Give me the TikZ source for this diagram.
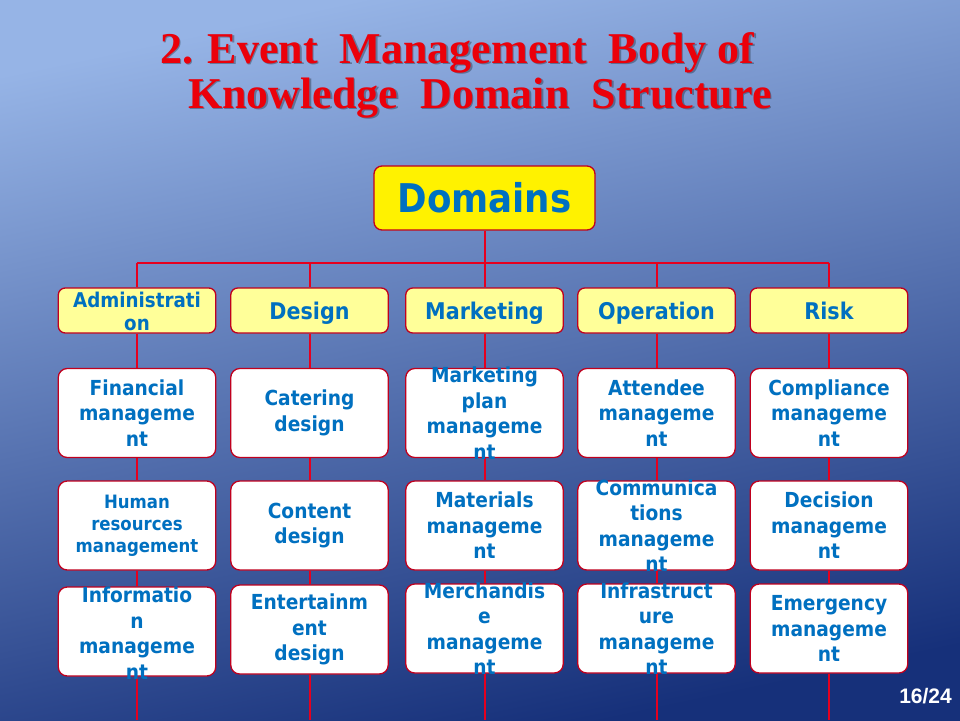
\documentclass[tikz,border=0pt]{standalone}
\usepackage{fontspec}
\newfontfamily\bodyfont[FakeStretch=0.9]{DejaVu Sans}
\newfontfamily\titlefont{Liberation Serif}
\newfontfamily\numfont{Liberation Sans}
\definecolor{linered}{RGB}{230,0,30}
\definecolor{borderred}{RGB}{192,0,30}
\definecolor{txtblue}{RGB}{0,112,192}
\definecolor{paleyel}{RGB}{255,255,153}
\definecolor{titlered}{RGB}{235,0,10}
\definecolor{bgtop}{RGB}{150,180,230}
\definecolor{bgmid}{RGB}{76,132,212}
\definecolor{bgbot}{RGB}{22,48,122}
\pgfdeclarelayer{bglayer}
\pgfdeclarelayer{linelayer}
\pgfsetlayers{bglayer,linelayer,main}
\begin{document}
\begin{tikzpicture}[x=1pt,y=-1pt,
  hbox/.style={draw=borderred, line width=1.3pt, fill=paleyel, rounded corners=7pt, minimum width=157.5pt, minimum height=45pt, inner sep=0pt},
  wbox/.style={draw=borderred, line width=1.3pt, fill=white, rounded corners=9pt, minimum width=157.5pt, minimum height=89pt, inner sep=0pt},
  dbox/.style={draw=borderred, line width=1.3pt, fill=yellow, rounded corners=8pt, minimum width=221pt, minimum height=64pt, inner sep=0pt},
  txt/.style={text=txtblue, font={\bodyfont\bfseries\fontsize{20.7}{25.5}\selectfont}, align=center, inner sep=0pt},
  htxt/.style={text=txtblue, font={\bodyfont\bfseries\fontsize{23}{23}\selectfont}, align=center, inner sep=0pt, anchor=base},
  ttl/.style={font={\titlefont\bfseries\fontsize{44}{44}\selectfont}, anchor=base west, inner sep=0pt},
  conn/.style={draw=linered, line width=2pt}
]
\begin{pgfonlayer}{bglayer}
\shade[top color=bgtop, middle color=bgmid, bottom color=bgbot, shading angle=12] (0,0) rectangle (960,720);
\end{pgfonlayer}
\useasboundingbox (0,0) rectangle (960,720);

% title (with soft shadow)
\node[ttl, text=black, text opacity=0.3] (t1s) at (161.5,64.5) {2. Event\ \ Management\ \ Body of};
\node[ttl, text=black, text opacity=0.3] (t2s) at (189.5,109.5) {Knowledge\ \ Domain\ \ Structure};
\node[ttl, text=titlered] (t1) at (160,63) {2. Event\ \ Management\ \ Body of};
\node[ttl, text=titlered] (t2) at (188,108) {Knowledge\ \ Domain\ \ Structure};

% root
\node[dbox] (dom) at (484.5,198) {};
\node[txt, font={\bodyfont\bfseries\fontsize{39.6}{40}\selectfont}] (domt) at (dom) {Domains};

% headers
\node[hbox] (h1) at (137,310.5) {};
\node[hbox] (h2) at (309.5,310.5) {};
\node[hbox] (h3) at (484.5,310.5) {};
\node[hbox] (h4) at (656.5,310.5) {};
\node[hbox] (h5) at (829,310.5) {};
\node[txt, font={\bodyfont\bfseries\fontsize{20.3}{23}\selectfont}] (h1t) at (137,311) {Administrati\\on};
\node[htxt] (h2t) at (309.5,319) {Design};
\node[htxt] (h3t) at (484.5,319) {Marketing};
\node[htxt] (h4t) at (656.5,319) {Operation};
\node[htxt] (h5t) at (829,319) {Risk};

% row 2
\node[wbox] (a2) at (137,413) {};
\node[wbox] (b2) at (309.5,413) {};
\node[wbox] (c2) at (484.5,413) {};
\node[wbox] (d2) at (656.5,413) {};
\node[wbox] (e2) at (829,413) {};
\node[txt] (a2t) at (a2) {Financial\\manageme\\nt};
\node[txt] (b2t) at (b2) {Catering\\design};
\node[txt] (c2t) at (c2) {Marketing\\plan\\manageme\\nt};
\node[txt] (d2t) at (d2) {Attendee\\manageme\\nt};
\node[txt] (e2t) at (e2) {Compliance\\manageme\\nt};

% row 3
\node[wbox] (a3) at (137,525.5) {};
\node[wbox] (b3) at (309.5,525.5) {};
\node[wbox] (c3) at (484.5,525.5) {};
\node[wbox] (d3) at (656.5,525.5) {};
\node[wbox] (e3) at (829,525.5) {};
\node[txt, font={\bodyfont\bfseries\fontsize{18.4}{22}\selectfont}] (a3t) at (a3) {Human\\resources\\management};
\node[txt] (b3t) at (b3) {Content\\design};
\node[txt] (c3t) at (c3) {Materials\\manageme\\nt};
\node[txt] (d3t) at (d3) {Communica\\tions\\manageme\\nt};
\node[txt] (e3t) at (e3) {Decision\\manageme\\nt};

% row 4
\node[wbox] (a4) at (137,631.5) {};
\node[wbox] (b4) at (309.5,629.5) {};
\node[wbox] (c4) at (484.5,628.5) {};
\node[wbox] (d4) at (656.5,628.5) {};
\node[wbox] (e4) at (829,628.5) {};
\node[txt] (a4t) at (137,633) {Informatio\\n\\manageme\\nt};
\node[txt] (b4t) at (b4) {Entertainm\\ent\\design};
\node[txt] (c4t) at (c4) {Merchandis\\e\\manageme\\nt};
\node[txt] (d4t) at (d4) {Infrastruct\\ure\\manageme\\nt};
\node[txt] (e4t) at (e4) {Emergency\\manageme\\nt};

% page number
\node[text=white, font={\numfont\bfseries\fontsize{21}{21}\selectfont}, anchor=base east, inner sep=0pt] (pg) at (952,703) {16/24};

% connectors
\coordinate (j1) at (137,263);
\coordinate (j3) at (484.5,263);
\coordinate (j5) at (829,263);
\coordinate (z1) at (137,720);
\coordinate (z2) at (309.5,720);
\coordinate (z3) at (484.5,720);
\coordinate (z4) at (656.5,720);
\coordinate (z5) at (829,720);
\begin{pgfonlayer}{linelayer}
\draw[conn] (dom.south) -- (j3);
\draw[conn] (j1) -- (j5);
\foreach \c/\h in {a/1,b/2,c/3,d/4,e/5}{
  \draw[conn] (h\h |- j1) -- (h\h.north);
  \draw[conn] (h\h.south) -- (\c2.north);
  \draw[conn] (\c2.south) -- (\c3.north);
  \draw[conn] (\c3.south) -- (\c4.north);
  \draw[conn] (\c4.south) -- (z\h);
}
\end{pgfonlayer}
\end{tikzpicture}
\end{document}
